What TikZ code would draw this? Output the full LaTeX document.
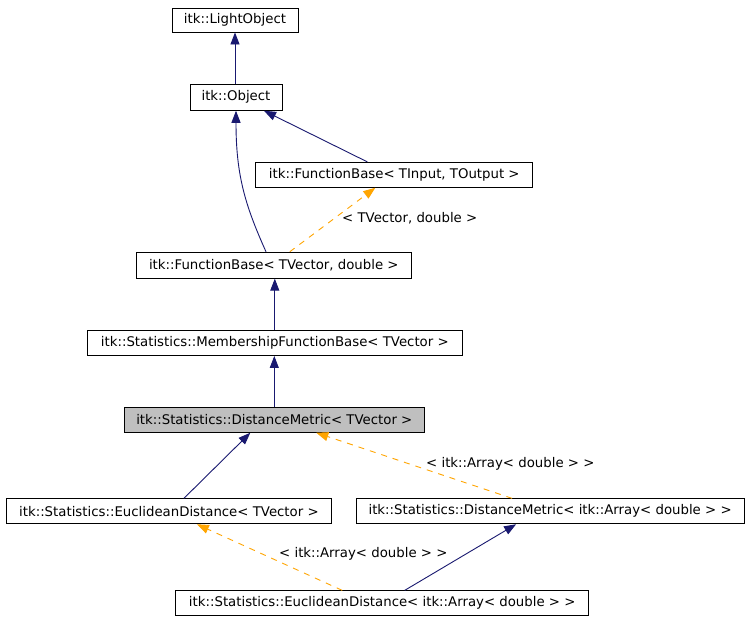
\documentclass[tikz,border=0pt]{standalone}
\usepackage{fontspec}
\setmainfont{DejaVu Sans}
\usetikzlibrary{arrows.meta}
\definecolor{edgeblue}{HTML}{191970}
\definecolor{edgeorange}{HTML}{FFA500}
\definecolor{boxgray}{HTML}{BFBFBF}
\begin{document}
\begin{tikzpicture}[x=1pt,y=-1pt,
  cls/.style={draw=black, line width=0.9pt, minimum height=25pt, inner sep=0pt,
    font=\fontsize{13.3}{15}\selectfont, text=black},
  lbl/.style={anchor=west, inner sep=0pt, font=\fontsize{13.3}{15}\selectfont, text=black},
  inh/.style={draw=edgeblue, line width=0.9pt, -{Triangle[length=12pt,width=9pt]}},
  tmpl/.style={draw=edgeorange, line width=0.9pt, dash pattern=on 6pt off 6pt,
    -{Triangle[length=12pt,width=9pt]}}]
\useasboundingbox (0,0) rectangle (747,619);
\fill[white] (0,0) rectangle (747,619);

\node[cls, minimum width=126pt, minimum height=24pt] (lo) at (235,20) {itk::LightObject};
\node[cls, minimum width=92pt, minimum height=26pt] (obj) at (236,97.3) {itk::Object};
\node[cls, minimum width=277pt] (fbin) at (394.3,174.8) {itk::FunctionBase< TInput, TOutput >};
\node[cls, minimum width=275pt, minimum height=26pt] (fbvec) at (273.8,265.2) {itk::FunctionBase< TVector, double >};
\node[cls, minimum width=375pt] (mfb) at (274.8,343) {itk::Statistics::MembershipFunctionBase< TVector >};
\node[cls, fill=boxgray, minimum width=300pt] (dm) at (274.3,419.8) {itk::Statistics::DistanceMetric< TVector >};
\node[cls, minimum width=325pt] (edv) at (168.9,511.3) {itk::Statistics::EuclideanDistance< TVector >};
\node[cls, minimum width=388pt] (dma) at (550.1,511.3) {itk::Statistics::DistanceMetric< itk::Array< double > >};
\node[cls, minimum width=413pt] (eda) at (382.2,603.3) {itk::Statistics::EuclideanDistance< itk::Array< double > >};

\draw[inh] (obj.north -| lo.south) -- (lo.south);
\draw[inh] ([xshift=-27pt]fbin.north) -- ([xshift=28pt]obj.south);
\draw[inh] ([xshift=-7.8pt]fbvec.north) .. controls (245,205) and (236,175) .. (obj.south);
\draw[tmpl] ([xshift=16pt]fbvec.north) -- ([xshift=-19pt]fbin.south);
\draw[inh] (mfb.north) -- (mfb.north |- fbvec.south);
\draw[inh] (dm.north) -- (dm.north |- mfb.south);
\draw[inh] ([xshift=15pt]edv.north) -- ([xshift=-24pt]dm.south);
\draw[tmpl] ([xshift=-38pt]dma.north) -- ([xshift=42pt]dm.south);
\draw[tmpl] ([xshift=-40pt]eda.north) -- ([xshift=28pt]edv.south);
\draw[inh] ([xshift=22.5pt]eda.north) -- ([xshift=-34pt]dma.south);

\node[lbl] (l1) at (342,218) {< TVector, double >};
\node[lbl] (l2) at (426,464) {< itk::Array< double > >};
\node[lbl] (l3) at (279,554) {< itk::Array< double > >};
\end{tikzpicture}
\end{document}
